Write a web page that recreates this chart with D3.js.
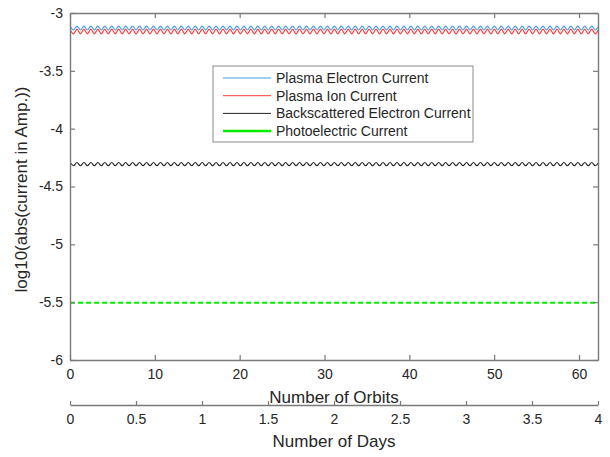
<!DOCTYPE html>
<html>
<head>
<meta charset="utf-8">
<script src="https://cdn.jsdelivr.net/npm/d3@7"></script>
<style>
body { margin: 0; background: #fff; }
svg text { font-family: "Liberation Sans", Arial, Helvetica, sans-serif; fill: #262626; }
</style>
</head>
<body>
<svg width="610" height="457"></svg>
<script>
// sample times (orbits), one per crest / trough of the ripple
const orbits = [
    0, 0.41, 0.82, 1.23, 1.64, 2.05, 2.46, 2.87, 3.28, 3.69,
    4.10, 4.51, 4.92, 5.33, 5.74, 6.15, 6.56, 6.97, 7.38, 7.79,
    8.20, 8.61, 9.02, 9.43, 9.84, 10.25, 10.66, 11.07, 11.48, 11.89,
    12.30, 12.71, 13.12, 13.53, 13.94, 14.35, 14.76, 15.17, 15.58, 15.99,
    16.40, 16.81, 17.22, 17.63, 18.04, 18.45, 18.86, 19.27, 19.68, 20.09,
    20.50, 20.91, 21.32, 21.73, 22.14, 22.55, 22.96, 23.37, 23.78, 24.19,
    24.60, 25.01, 25.42, 25.83, 26.24, 26.65, 27.06, 27.47, 27.88, 28.29,
    28.70, 29.11, 29.52, 29.93, 30.34, 30.75, 31.16, 31.57, 31.98, 32.39,
    32.80, 33.21, 33.62, 34.03, 34.44, 34.85, 35.26, 35.67, 36.08, 36.49,
    36.90, 37.31, 37.72, 38.13, 38.54, 38.95, 39.36, 39.77, 40.18, 40.59,
    41.00, 41.41, 41.82, 42.23, 42.64, 43.05, 43.46, 43.87, 44.28, 44.69,
    45.10, 45.51, 45.92, 46.33, 46.74, 47.15, 47.56, 47.97, 48.38, 48.79,
    49.20, 49.61, 50.02, 50.43, 50.84, 51.25, 51.66, 52.07, 52.48, 52.89,
    53.30, 53.71, 54.12, 54.53, 54.94, 55.35, 55.76, 56.17, 56.58, 56.99,
    57.40, 57.81, 58.22, 58.63, 59.04, 59.45, 59.86, 60.27, 60.68, 61.09,
    61.50, 61.91, 62.32
];

const plasmaElectron = [
    -3.113, -3.147, -3.113, -3.147, -3.113, -3.147, -3.113, -3.147, -3.113, -3.147,
    -3.113, -3.147, -3.113, -3.147, -3.113, -3.147, -3.113, -3.147, -3.113, -3.147,
    -3.113, -3.147, -3.113, -3.147, -3.113, -3.147, -3.113, -3.147, -3.113, -3.147,
    -3.113, -3.147, -3.113, -3.147, -3.113, -3.147, -3.113, -3.147, -3.113, -3.147,
    -3.113, -3.147, -3.113, -3.147, -3.113, -3.147, -3.113, -3.147, -3.113, -3.147,
    -3.113, -3.147, -3.113, -3.147, -3.113, -3.147, -3.113, -3.147, -3.113, -3.147,
    -3.113, -3.147, -3.113, -3.147, -3.113, -3.147, -3.113, -3.147, -3.113, -3.147,
    -3.113, -3.147, -3.113, -3.147, -3.113, -3.147, -3.113, -3.147, -3.113, -3.147,
    -3.113, -3.147, -3.113, -3.147, -3.113, -3.147, -3.113, -3.147, -3.113, -3.147,
    -3.113, -3.147, -3.113, -3.147, -3.113, -3.147, -3.113, -3.147, -3.113, -3.147,
    -3.113, -3.147, -3.113, -3.147, -3.113, -3.147, -3.113, -3.147, -3.113, -3.147,
    -3.113, -3.147, -3.113, -3.147, -3.113, -3.147, -3.113, -3.147, -3.113, -3.147,
    -3.113, -3.147, -3.113, -3.147, -3.113, -3.147, -3.113, -3.147, -3.113, -3.147,
    -3.113, -3.147, -3.113, -3.147, -3.113, -3.147, -3.113, -3.147, -3.113, -3.147,
    -3.113, -3.147, -3.113, -3.147, -3.113, -3.147, -3.113, -3.147, -3.113, -3.147,
    -3.113, -3.147, -3.113
];

const plasmaIon = [
    -3.140, -3.180, -3.140, -3.180, -3.140, -3.180, -3.140, -3.180, -3.140, -3.180,
    -3.140, -3.180, -3.140, -3.180, -3.140, -3.180, -3.140, -3.180, -3.140, -3.180,
    -3.140, -3.180, -3.140, -3.180, -3.140, -3.180, -3.140, -3.180, -3.140, -3.180,
    -3.140, -3.180, -3.140, -3.180, -3.140, -3.180, -3.140, -3.180, -3.140, -3.180,
    -3.140, -3.180, -3.140, -3.180, -3.140, -3.180, -3.140, -3.180, -3.140, -3.180,
    -3.140, -3.180, -3.140, -3.180, -3.140, -3.180, -3.140, -3.180, -3.140, -3.180,
    -3.140, -3.180, -3.140, -3.180, -3.140, -3.180, -3.140, -3.180, -3.140, -3.180,
    -3.140, -3.180, -3.140, -3.180, -3.140, -3.180, -3.140, -3.180, -3.140, -3.180,
    -3.140, -3.180, -3.140, -3.180, -3.140, -3.180, -3.140, -3.180, -3.140, -3.180,
    -3.140, -3.180, -3.140, -3.180, -3.140, -3.180, -3.140, -3.180, -3.140, -3.180,
    -3.140, -3.180, -3.140, -3.180, -3.140, -3.180, -3.140, -3.180, -3.140, -3.180,
    -3.140, -3.180, -3.140, -3.180, -3.140, -3.180, -3.140, -3.180, -3.140, -3.180,
    -3.140, -3.180, -3.140, -3.180, -3.140, -3.180, -3.140, -3.180, -3.140, -3.180,
    -3.140, -3.180, -3.140, -3.180, -3.140, -3.180, -3.140, -3.180, -3.140, -3.180,
    -3.140, -3.180, -3.140, -3.180, -3.140, -3.180, -3.140, -3.180, -3.140, -3.180,
    -3.140, -3.180, -3.140
];

const backscattered = [
    -4.292, -4.320, -4.292, -4.320, -4.292, -4.320, -4.292, -4.320, -4.292, -4.320,
    -4.292, -4.320, -4.292, -4.320, -4.292, -4.320, -4.292, -4.320, -4.292, -4.320,
    -4.292, -4.320, -4.292, -4.320, -4.292, -4.320, -4.292, -4.320, -4.292, -4.320,
    -4.292, -4.320, -4.292, -4.320, -4.292, -4.320, -4.292, -4.320, -4.292, -4.320,
    -4.292, -4.320, -4.292, -4.320, -4.292, -4.320, -4.292, -4.320, -4.292, -4.320,
    -4.292, -4.320, -4.292, -4.320, -4.292, -4.320, -4.292, -4.320, -4.292, -4.320,
    -4.292, -4.320, -4.292, -4.320, -4.292, -4.320, -4.292, -4.320, -4.292, -4.320,
    -4.292, -4.320, -4.292, -4.320, -4.292, -4.320, -4.292, -4.320, -4.292, -4.320,
    -4.292, -4.320, -4.292, -4.320, -4.292, -4.320, -4.292, -4.320, -4.292, -4.320,
    -4.292, -4.320, -4.292, -4.320, -4.292, -4.320, -4.292, -4.320, -4.292, -4.320,
    -4.292, -4.320, -4.292, -4.320, -4.292, -4.320, -4.292, -4.320, -4.292, -4.320,
    -4.292, -4.320, -4.292, -4.320, -4.292, -4.320, -4.292, -4.320, -4.292, -4.320,
    -4.292, -4.320, -4.292, -4.320, -4.292, -4.320, -4.292, -4.320, -4.292, -4.320,
    -4.292, -4.320, -4.292, -4.320, -4.292, -4.320, -4.292, -4.320, -4.292, -4.320,
    -4.292, -4.320, -4.292, -4.320, -4.292, -4.320, -4.292, -4.320, -4.292, -4.320,
    -4.292, -4.320, -4.292
];

const photoOrbits = [0, 62.32];
const photoelectric = [-5.505, -5.505];

const yTicks = [-6, -5.5, -5, -4.5, -4, -3.5, -3];
const orbitTicks = [0, 10, 20, 30, 40, 50, 60];
const dayTicks = [0, 0.5, 1, 1.5, 2, 2.5, 3, 3.5, 4];

const seriesNames = ['Plasma Electron Current', 'Plasma Ion Current',
    'Backscattered Electron Current', 'Photoelectric Current'];
const seriesColors = ['#4a9ee0', '#ff3a3a', '#222222', '#00ee00'];

let svg = d3.select('svg');
let m = {left: 70, top: 13, right: 598, bottom: 360};
let axisColor = '#7a7a7a';

let x = d3.scaleLinear().domain([0, 62.24]).range([m.left, m.right]);
let xDays = d3.scaleLinear().domain([0, 4]).range([m.left, m.right]);
let y = d3.scaleLinear().domain([-6, -3]).range([m.bottom, m.top]);

svg.append('clipPath').attr('id', 'clip')
    .append('rect')
    .attr('x', m.left).attr('y', m.top - 4)
    .attr('width', m.right - m.left).attr('height', m.bottom - m.top + 8);

let series = [
    {name: seriesNames[0], color: seriesColors[0], xs: orbits, ys: plasmaElectron, w: 1.2},
    {name: seriesNames[1], color: seriesColors[1], xs: orbits, ys: plasmaIon, w: 1.2},
    {name: seriesNames[2], color: seriesColors[2], xs: orbits, ys: backscattered, w: 1.1},
    {name: seriesNames[3], color: seriesColors[3], xs: photoOrbits, ys: photoelectric, w: 2.2, dash: '5,3'}
];

let line = d3.line()
    .x(d => x(d[0]))
    .y(d => y(d[1]))
    .curve(d3.curveMonotoneX);

svg.append('g').attr('clip-path', 'url(#clip)')
    .selectAll('path')
    .data(series)
    .enter()
    .append('path')
    .attr('fill', 'none')
    .attr('stroke', d => d.color)
    .attr('stroke-width', d => d.w)
    .attr('stroke-dasharray', d => d.dash || null)
    .attr('d', d => line(d.xs.map((v, i) => [v, d.ys[i]])));

function styleAxis(g) {
    g.select('.domain').attr('stroke', axisColor).attr('stroke-width', 1.4);
    g.selectAll('.tick line').attr('stroke', axisColor).attr('stroke-width', 1.2);
    g.selectAll('.tick text')
        .style('font-family', '"Liberation Sans", Arial, sans-serif')
        .style('font-size', '14px')
        .attr('fill', '#262626');
}

let fmt = d => String(d);

// box axes
svg.append('g').attr('transform', `translate(0,${m.bottom})`)
    .call(d3.axisBottom(x).tickValues(orbitTicks).tickFormat(fmt).tickSize(-5).tickSizeOuter(0).tickPadding(9))
    .call(styleAxis);
svg.append('g').attr('transform', `translate(0,${m.top})`)
    .call(d3.axisTop(x).tickValues(orbitTicks).tickFormat('').tickSize(-5).tickSizeOuter(0))
    .call(styleAxis);
svg.append('g').attr('transform', `translate(${m.left},0)`)
    .call(d3.axisLeft(y).tickValues(yTicks).tickFormat(fmt).tickSize(-5).tickSizeOuter(0).tickPadding(7))
    .call(styleAxis);
svg.append('g').attr('transform', `translate(${m.right},0)`)
    .call(d3.axisRight(y).tickValues(yTicks).tickFormat('').tickSize(-5).tickSizeOuter(0))
    .call(styleAxis);

// second x axis in days
svg.append('g').attr('transform', 'translate(0,405)')
    .call(d3.axisBottom(xDays).tickValues(dayTicks).tickFormat(fmt).tickSize(-4).tickSizeOuter(0).tickPadding(9))
    .call(styleAxis);

svg.append('text')
    .attr('x', (m.left + m.right) / 2).attr('y', 403)
    .attr('text-anchor', 'middle')
    .style('font-size', '17px')
    .text('Number of Orbits');

svg.append('text')
    .attr('x', (m.left + m.right) / 2).attr('y', 447)
    .attr('text-anchor', 'middle')
    .style('font-size', '17px')
    .text('Number of Days');

svg.append('text')
    .attr('transform', `translate(27,${(m.top + m.bottom) / 2 + 3}) rotate(-90)`)
    .attr('text-anchor', 'middle')
    .style('font-size', '17px')
    .text('log10(abs(current in Amp.))');

// legend
let legend = svg.append('g').attr('transform', 'translate(213,66)');
legend.append('rect')
    .attr('width', 260).attr('height', 76)
    .attr('fill', '#fff')
    .attr('stroke', '#8a8a8a')
    .attr('stroke-width', 1);

let rows = legend.selectAll('g.row')
    .data(series)
    .enter()
    .append('g')
    .attr('class', 'row')
    .attr('transform', (d, i) => `translate(0,${12 + i * 17.7})`);
rows.append('line')
    .attr('x1', 10).attr('x2', 58)
    .attr('stroke', d => d.color)
    .attr('stroke-width', d => d.w > 2 ? 2.5 : 1);
rows.append('text')
    .attr('x', 63).attr('dy', '0.35em')
    .style('font-size', '14px')
    .text(d => d.name);
</script>
</body>
</html>
